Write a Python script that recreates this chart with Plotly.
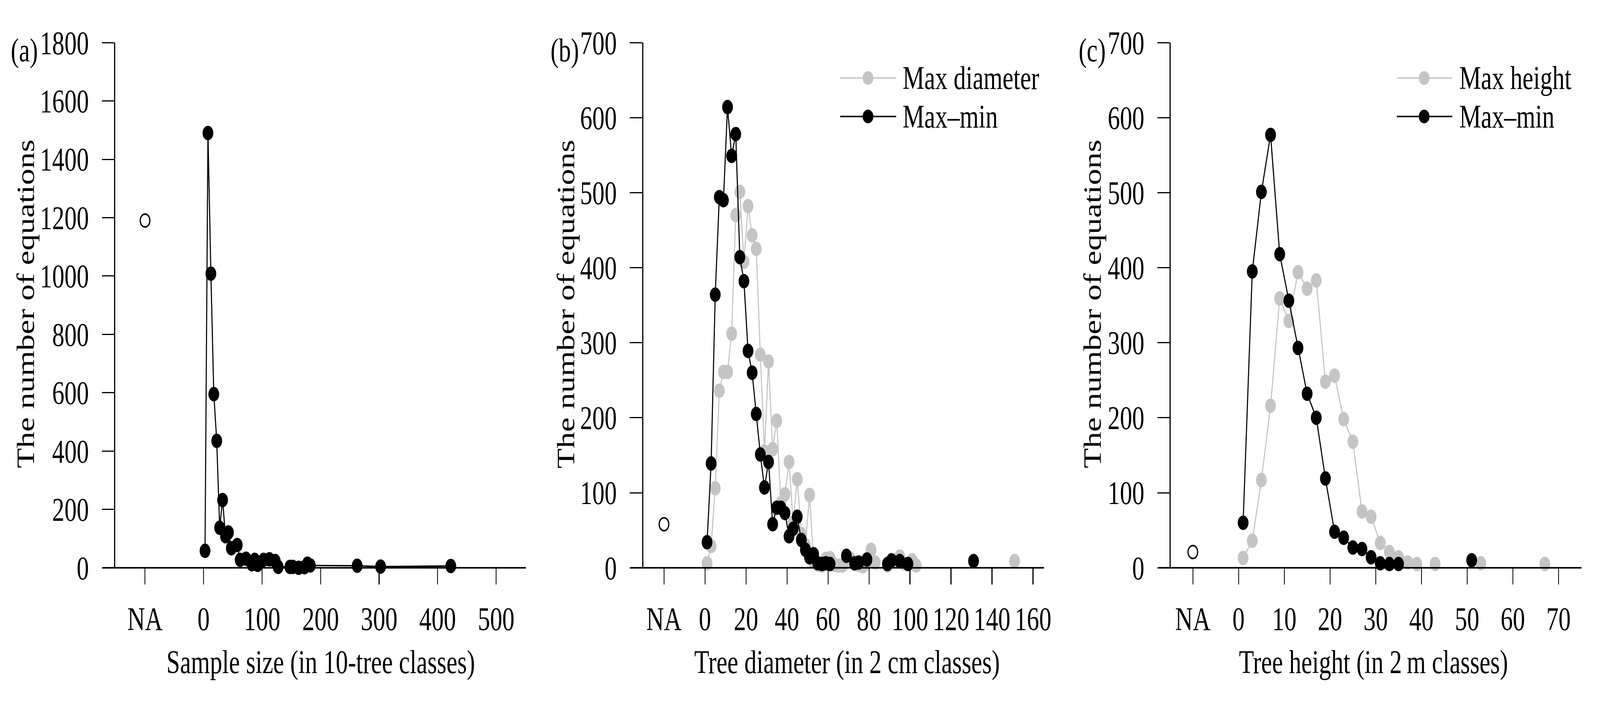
import plotly.graph_objects as go

# ---------------- data ----------------
# (a) sample size classes
a_x = [2.5, 7.5, 12.5, 17.5, 22.5, 27.5, 32.5, 37.5, 42.5, 47.5, 57.5, 62.5, 72.5, 82.5, 87.5,
       92.5, 102.5, 112.5, 122.5, 127.5, 147.5, 152.5, 162.5, 172.5, 177.5, 182.5, 262.5, 302.5, 422.5]
a_y = [58, 1490, 1008, 595, 435, 137, 232, 108, 121, 67, 78, 27, 31, 12, 27,
       10, 27, 29, 23, 3, 3, 3, 0, 2, 14, 8, 7, 4, 6]
a_na = 1190

# (b) tree diameter classes  (None = empty class, breaks the line)
b_max_x = [1, 3, 5, 7, 9, 11, 13, 15, 17, 19, 21, 23, 25, 27, 29, 31, 33, 35, 37, 39,
           41, 43, 45, 47, 49, 51, 53, 55, 57, 59, 61, 63, 65, 67, 69, 71, 73, 75, 77, 79,
           81, 83, 85, 89, 91, 93, 95, 97, 99, 101, 103, 105, 151]
b_max_y = [6, 29, 106, 236, 261, 261, 312, 470, 501, 408, 482, 443, 425, 284, 155, 275, 158, 196, 86, 98,
           141, 60, 118, 45, 30, 97, 8, 4, 3, 12, 13, 4, 3, 3, 8, 12, 5, 4, 2, 6,
           24, 7, None, 3, 8, None, 15, 6, 5, 10, 3, None, 9]
b_mm_x = [1, 3, 5, 7, 9, 11, 13, 15, 17, 19, 21, 23, 25, 27, 29, 31, 33, 35, 37, 39,
          41, 43, 45, 47, 49, 51, 53, 55, 57, 59, 61, 63, 69, 71, 73, 75, 77, 79, 81,
          89, 91, 93, 95, 97, 99, 101, 131]
b_mm_y = [34, 139, 364, 494, 490, 614, 549, 578, 414, 382, 289, 260, 205, 151, 107, 141, 58, 80, 80, 73,
          42, 52, 68, 37, 24, 14, 18, 6, 5, 6, 5, None, 16, None, 6, 7, None, 11, None,
          5, 10, None, 9, None, 5, None, 9]
b_na = 58

# (c) tree height classes
c_max_x = [1, 3, 5, 7, 9, 11, 13, 15, 17, 19, 21, 23, 25, 27, 29, 31, 33, 35, 37, 39,
           41, 43, 45, 53, 55, 67]
c_max_y = [13, 36, 117, 216, 359, 329, 394, 372, 383, 248, 256, 198, 168, 75, 68, 33, 21, 14, 7, 5,
           None, 5, None, 6, None, 5]
c_mm_x = [1, 3, 5, 7, 9, 11, 13, 15, 17, 19, 21, 23, 25, 27, 29, 31, 33, 35, 37, 51]
c_mm_y = [60, 395, 501, 577, 418, 356, 293, 232, 200, 119, 48, 40, 27, 25, 14, 6, 5, 5, None, 10]
c_na = 21

# tick labels
a_ticks = [-100, 0, 100, 200, 300, 400, 500]
a_ticktext = ["NA", "0", "100", "200", "300", "400", "500"]
b_ticks = [-20, 0, 20, 40, 60, 80, 100, 120, 140, 160]
b_ticktext = ["NA", "0", "20", "40", "60", "80", "100", "120", "140", "160"]
c_ticks = [-10, 0, 10, 20, 30, 40, 50, 60, 70]
c_ticktext = ["NA", "0", "10", "20", "30", "40", "50", "60", "70"]
a_yticks = list(range(0, 1801, 200))
bc_yticks = list(range(0, 701, 100))

# ---------------- layout constants ----------------
W, H = 5490, 1821
Y_TOP, Y_BOT = 66.5, 1484
FONT = "Liberation Serif"
FS = 84
GREY = "#c4c4c4"
MS = 37
LW = 3.7
AXW = 4
TICKW = 3.3

panels = [
    dict(key="", left=397.7, right=1812.7, xr=[-150.7, 550.8], yr=[0, 1800], na_x=-100,
         ticks=a_ticks, ticktext=a_ticktext, yticks=a_yticks),
    dict(key="2", left=2217.3, right=3598.9, xr=[-30.1, 165.4], yr=[0, 700], na_x=-20,
         ticks=b_ticks, ticktext=b_ticktext, yticks=bc_yticks),
    dict(key="3", left=4035.9, right=5451.4, xr=[-14.81, 75.03], yr=[0, 700], na_x=-10,
         ticks=c_ticks, ticktext=c_ticktext, yticks=bc_yticks),
]


def fx(p):
    return p / W


def fy(p):
    return 1 - p / H


fig = go.Figure()


def line_trace(x, y, color, k):
    fig.add_trace(go.Scatter(
        x=x, y=y, mode="lines+markers", xaxis="x" + k, yaxis="y" + k,
        line=dict(color=color, width=LW),
        marker=dict(color=color, size=MS, line=dict(width=0)),
        cliponaxis=False, showlegend=False, connectgaps=False))


def na_trace(xv, yv, k):
    fig.add_trace(go.Scatter(
        x=[xv], y=[yv], mode="markers", xaxis="x" + k, yaxis="y" + k,
        marker=dict(symbol="circle-open", color="black", size=33, line=dict(width=4.2, color="black")),
        cliponaxis=False, showlegend=False))


# panel a
line_trace(a_x, a_y, "black", "")
na_trace(panels[0]["na_x"], a_na, "")
# panel b
line_trace(b_max_x, b_max_y, GREY, "2")
line_trace(b_mm_x, b_mm_y, "black", "2")
na_trace(panels[1]["na_x"], b_na, "2")
# panel c
line_trace(c_max_x, c_max_y, GREY, "3")
line_trace(c_mm_x, c_mm_y, "black", "3")
na_trace(panels[2]["na_x"], c_na, "3")

tickfont = dict(family=FONT, size=FS, color="black")
layout = dict(
    width=W, height=H, margin=dict(l=0, r=0, t=0, b=0),
    paper_bgcolor="white", plot_bgcolor="white", showlegend=False,
    font=dict(family=FONT, size=FS, color="black"),
)
shapes = []
annotations = []
for p in panels:
    k = p["key"]
    layout["xaxis" + k] = dict(
        domain=[fx(p["left"]), fx(p["right"])], range=p["xr"], anchor="y" + k,
        tickmode="array", tickvals=p["ticks"], ticktext=p["ticktext"],
        ticks="outside", ticklen=42, tickwidth=TICKW, tickcolor="black",
        showline=False, showgrid=False, zeroline=False, tickfont=tickfont,
        ticklabelstandoff=16)
    layout["yaxis" + k] = dict(
        domain=[fy(Y_BOT), fy(Y_TOP)], range=p["yr"], anchor="x" + k,
        tickmode="array", tickvals=p["yticks"],
        ticks="outside", ticklen=42, tickwidth=TICKW, tickcolor="black",
        showline=True, linewidth=AXW, linecolor="black",
        showgrid=False, zeroline=False, tickfont=tickfont,
        ticklabelstandoff=28)
    # x axis base line (extends under the y ticks)
    shapes.append(dict(type="line", xref="paper", yref="paper",
                       x0=fx(p["left"] - 43), x1=fx(p["right"]),
                       y0=fy(Y_BOT), y1=fy(Y_BOT),
                       line=dict(color="black", width=AXW), layer="above"))

# axis titles and panel letters
y_title_x = [89, 1951, 3766]
x_title_cx = [1106, 2920, 4735]
x_titles = ["Sample size (in 10-tree classes)", "Tree diameter (in 2 cm classes)",
            "Tree height (in 2\u2009m classes)"]
letters = ["(a)", "(b)", "(c)"]
letter_x = [35, 1896, 3716]
for i in range(3):
    annotations.append(dict(text="The number of equations", xref="paper", yref="paper",
                            x=fx(y_title_x[i]), y=fy(772), textangle=-90,
                            xanchor="center", yanchor="middle", showarrow=False,
                            font=dict(family=FONT, size=FS, color="black")))
    annotations.append(dict(text=x_titles[i], xref="paper", yref="paper",
                            x=fx(x_title_cx[i]), y=fy(1739),
                            xanchor="center", yanchor="middle", showarrow=False,
                            font=dict(family=FONT, size=FS, color="black")))
    annotations.append(dict(text=letters[i], xref="paper", yref="paper",
                            x=fx(letter_x[i]), y=fy(87),
                            xanchor="left", yanchor="middle", showarrow=False,
                            font=dict(family=FONT, size=FS, color="black")))

# manual legends (panels b and c)
legends = [
    dict(x0=2896, x1=3089, cx=2992, tx=3109, labels=["Max diameter", "Max\u2013min"]),
    dict(x0=4815, x1=5006, cx=4909, tx=5028, labels=["Max height", "Max\u2013min"]),
]
rows = [162, 266]
row_colors = [GREY, "black"]
for lg in legends:
    for r, col, lab in zip(rows, row_colors, lg["labels"]):
        shapes.append(dict(type="line", xref="paper", yref="paper",
                           x0=fx(lg["x0"]), x1=fx(lg["x1"]), y0=fy(r), y1=fy(r),
                           line=dict(color=col, width=LW)))
        rad = MS / 2
        shapes.append(dict(type="circle", xref="paper", yref="paper",
                           x0=fx(lg["cx"] - rad), x1=fx(lg["cx"] + rad),
                           y0=fy(r + rad), y1=fy(r - rad),
                           fillcolor=col, line=dict(width=0)))
        annotations.append(dict(text=lab, xref="paper", yref="paper",
                                x=fx(lg["tx"]), y=fy(r), xanchor="left", yanchor="middle",
                                showarrow=False,
                                font=dict(family=FONT, size=FS, color="black")))

layout["shapes"] = shapes
layout["annotations"] = annotations
fig.update_layout(**layout)

# the browser viewport may be smaller than the requested 5490x1821:
# scale the fixed-size figure so that it exactly fills the viewport
fit_js = """
var gd = document.getElementById('{plot_id}');
document.documentElement.style.margin = '0';
document.body.style.margin = '0';
document.documentElement.style.overflow = 'hidden';
document.body.style.overflow = 'hidden';
var vw = document.documentElement.clientWidth || window.innerWidth;
var vh = window.innerHeight || document.documentElement.clientHeight;
var sx = vw / %d, sy = vh / %d;
var wrap = gd.parentElement;
wrap.style.width = vw + 'px';
wrap.style.height = vh + 'px';
wrap.style.overflow = 'hidden';
gd.style.transformOrigin = '0 0';
gd.style.transform = 'scale(' + sx + ',' + sy + ')';
""" % (W, H)

fig.write_html("out.html", post_script=fit_js, config={"displayModeBar": False})
